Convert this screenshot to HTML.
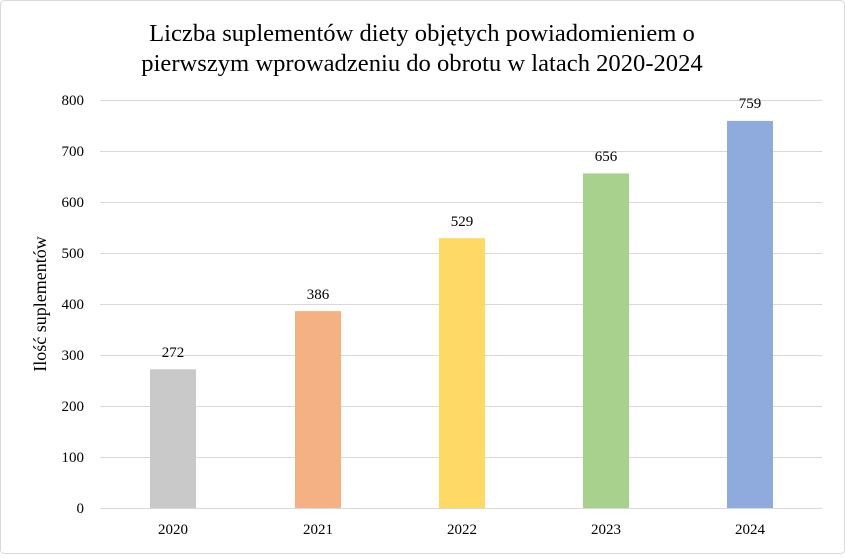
<!DOCTYPE html>
<html><head><meta charset="utf-8"><style>
body{margin:0;background:#fff}
</style></head><body>
<svg width="845" height="554" xmlns="http://www.w3.org/2000/svg" font-family="Liberation Serif, serif">
<rect x="0.5" y="0.5" width="844" height="553" rx="4" fill="#fff" stroke="#d9d9d9"/>
<text x="422" y="41" font-size="24.6" text-anchor="middle">Liczba suplementów diety objętych powiadomieniem o</text>
<text x="422" y="71" font-size="24.6" text-anchor="middle">pierwszym wprowadzeniu do obrotu w latach 2020-2024</text>
<g stroke="#d9d9d9" stroke-width="1">
<line x1="100" x2="822" y1="100.5" y2="100.5"/>
<line x1="100" x2="822" y1="151.5" y2="151.5"/>
<line x1="100" x2="822" y1="202.5" y2="202.5"/>
<line x1="100" x2="822" y1="253.5" y2="253.5"/>
<line x1="100" x2="822" y1="304.5" y2="304.5"/>
<line x1="100" x2="822" y1="355.5" y2="355.5"/>
<line x1="100" x2="822" y1="406.5" y2="406.5"/>
<line x1="100" x2="822" y1="457.5" y2="457.5"/>
<line x1="100" x2="822" y1="508.5" y2="508.5"/>
</g>
<g font-size="15" text-anchor="end">
<text x="84" y="105">800</text><text x="84" y="156">700</text><text x="84" y="207">600</text>
<text x="84" y="258">500</text><text x="84" y="309">400</text><text x="84" y="360">300</text>
<text x="84" y="411">200</text><text x="84" y="462">100</text><text x="84" y="513">0</text>
</g>
<text transform="translate(46,304) rotate(-90)" font-size="18" text-anchor="middle">Ilość suplementów</text>
<rect x="150" y="369.3" width="46" height="138.7" fill="#c9c9c9"/>
<rect x="295" y="311.1" width="46" height="196.9" fill="#f4b183"/>
<rect x="439" y="238.2" width="46" height="269.8" fill="#ffd966"/>
<rect x="583" y="173.4" width="46" height="334.6" fill="#a9d18e"/>
<rect x="727" y="120.9" width="46" height="387.1" fill="#8faadc"/>
<g font-size="15" text-anchor="middle">
<text x="173" y="357">272</text><text x="318" y="299">386</text><text x="462" y="226">529</text>
<text x="606" y="161">656</text><text x="750" y="108">759</text>
<text x="173" y="534">2020</text><text x="318" y="534">2021</text><text x="462" y="534">2022</text>
<text x="606" y="534">2023</text><text x="750" y="534">2024</text>
</g>
</svg>
</body></html>
